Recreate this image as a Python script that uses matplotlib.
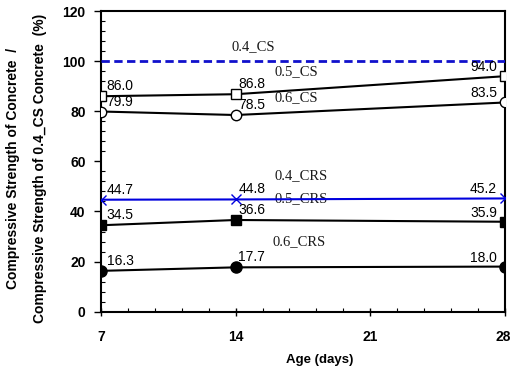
import matplotlib
matplotlib.use("Agg")
import matplotlib.pyplot as plt
import matplotlib.transforms as mtransforms
from matplotlib.ticker import MultipleLocator

days = [7, 14, 28]
s04_cs = [100.0, 100.0, 100.0]
s05_cs = [86.0, 86.8, 94.0]
s06_cs = [79.9, 78.5, 83.5]
s04_crs = [44.7, 44.8, 45.2]
s05_crs = [34.5, 36.6, 35.9]
s06_crs = [16.3, 17.7, 18.0]
series_names = ["0.4_CS", "0.5_CS", "0.6_CS", "0.4_CRS", "0.5_CRS", "0.6_CRS"]
name_pos = [(13.8, 105.9), (16.0, 95.9), (16.0, 85.6), (16.0, 54.3), (16.0, 45.1), (15.9, 27.8)]
xticks = [7, 14, 21, 28]
yticks = [0, 20, 40, 60, 80, 100, 120]

plt.rcParams['font.family'] = ['Liberation Sans', 'DejaVu Sans']

fig = plt.figure(figsize=(5.11, 3.68), dpi=100)
ax = fig.add_axes([0.1977, 0.153, 0.7903, 0.817])

blue = '#1010CC'
ax.plot(days, s04_cs, color=blue, lw=2.0, ls=(0, (3, 1.6)), zorder=3)
ax.plot(days, s05_cs, color='black', lw=1.5, marker='s', ms=6.5, mfc='white', mec='black', mew=1.0, zorder=4)
ax.plot(days, s06_cs, color='black', lw=1.5, marker='o', ms=7.5, mfc='white', mec='black', mew=1.0, zorder=4)
ax.plot(days, s04_crs, color='#0000DD', lw=1.5, marker='x', ms=7.5, mew=1.0, zorder=4)
ax.plot(days, s05_crs, color='black', lw=1.5, marker='s', ms=7, mfc='black', mec='black', zorder=4)
ax.plot(days, s06_crs, color='black', lw=1.5, marker='o', ms=8, mfc='black', mec='black', zorder=4)

for vals in [s05_cs, s06_cs, s04_crs, s05_crs, s06_crs]:
    for i, (d, v) in enumerate(zip(days, vals)):
        txt = f"{v:.1f}"
        if i == 0:
            ax.annotate(txt, (d, v), xytext=(4, 2), textcoords='offset points',
                        ha='left', va='bottom', fontsize=10, zorder=5)
        elif i == 1:
            ax.annotate(txt, (d, v), xytext=(2, 2.5), textcoords='offset points',
                        ha='left', va='bottom', fontsize=10, zorder=5)
        else:
            ax.annotate(txt, (d, v), xytext=(-5.5, 1.5), textcoords='offset points',
                        ha='right', va='bottom', fontsize=10, zorder=5)

for name, (x, y) in zip(series_names, name_pos):
    ax.text(x, y, name, ha='left', va='center', fontsize=10.5,
            family=['Liberation Serif', 'DejaVu Serif'], color='#1a1a1a', zorder=2)

ax.set_xlim(7, 28)
ax.set_ylim(0, 120)
ax.set_xticks(xticks)
ax.set_yticks(yticks)
ax.xaxis.set_minor_locator(MultipleLocator(1.4))
ax.yaxis.set_minor_locator(MultipleLocator(4))
ax.tick_params(axis='x', which='major', direction='inout', length=6, width=1, pad=10)
ax.tick_params(axis='x', which='minor', direction='in', length=3, width=0.8)
ax.tick_params(axis='y', which='major', direction='out', length=5, width=1, pad=6)
ax.tick_params(axis='y', which='minor', direction='in', length=3, width=0.8)
for lab in ax.get_xticklabels() + ax.get_yticklabels():
    lab.set_fontweight('bold')
    lab.set_fontsize(10)
last = ax.get_xticklabels()[-1]
last.set_transform(last.get_transform() + mtransforms.ScaledTranslation(-2/100, 0, fig.dpi_scale_trans))
for sp in ax.spines.values():
    sp.set_linewidth(1.5)

ax.set_xlabel("Age (days)", fontsize=9.5, fontweight='bold', labelpad=6)
ax.xaxis.set_label_coords(0.542, -0.14)
fig.text(0.025, 0.543, "Compressive Strength of Concrete  /", rotation=90,
         ha='center', va='center', fontsize=10, fontweight='bold')
fig.text(0.078, 0.543, "Compressive Strength of 0.4_CS Concrete  (%)", rotation=90,
         ha='center', va='center', fontsize=10, fontweight='bold')

fig.savefig("out.png", dpi=100)
